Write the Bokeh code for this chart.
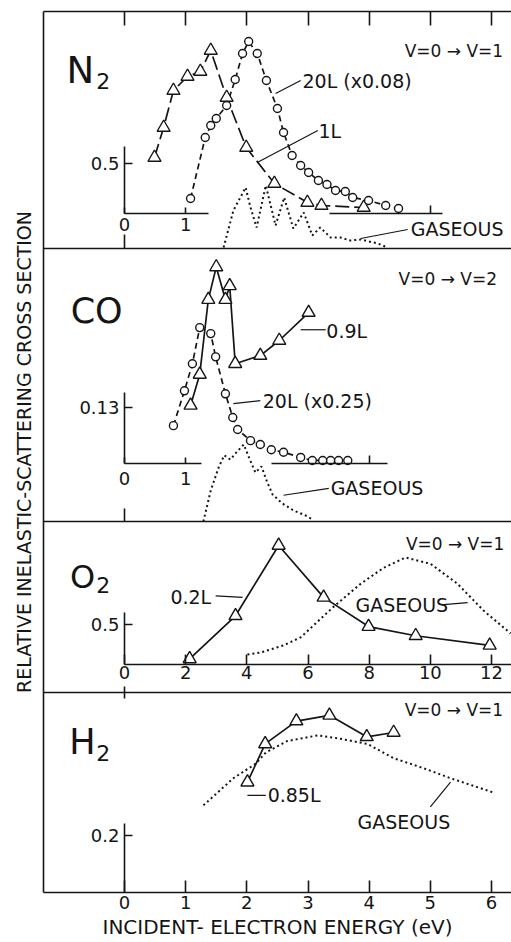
from bokeh.plotting import figure
from bokeh.models import Range1d, LinearAxis, FixedTicker, Label
from bokeh.embed import file_html
from bokeh.resources import INLINE

# ---------------- data ----------------
# N2, V=0 -> V=1  (x: eV, y: relative cross section)
n2_1L_x = [0.49, 0.64, 0.80, 1.03, 1.24, 1.41, 1.67, 1.99, 2.45, 2.99, 3.22, 3.91]
n2_1L_y = [0.56, 0.86, 1.23, 1.37, 1.42, 1.63, 1.16, 0.66, 0.30, 0.11, 0.08, 0.06]
n2_20L_x = [1.08, 1.32, 1.41, 1.50, 1.67, 1.81, 1.93, 2.03, 2.17, 2.32, 2.50, 2.60,
            2.74, 2.88, 3.01, 3.17, 3.31, 3.45, 3.61, 3.73, 3.99, 4.27, 4.48]
n2_20L_y = [0.15, 0.76, 0.88, 0.95, 1.08, 1.34, 1.60, 1.72, 1.60, 1.33, 1.05, 0.81,
            0.58, 0.48, 0.41, 0.33, 0.29, 0.23, 0.22, 0.16, 0.13, 0.08, 0.05]
n2_gas_x = [1.62, 1.78, 1.98, 2.06, 2.16, 2.31, 2.47, 2.61, 2.76, 2.93, 3.07, 3.20,
            3.37, 3.53, 3.69, 3.86, 4.14, 4.30]
n2_gas_y = [-0.34, 0.03, 0.26, 0.06, -0.14, 0.28, -0.12, 0.16, -0.15, 0.01, -0.22, -0.14,
            -0.24, -0.24, -0.27, -0.26, -0.30, -0.34]

# CO, V=0 -> V=2
co_09L_x = [1.08, 1.23, 1.37, 1.50, 1.65, 1.72, 1.81, 2.22, 2.53, 3.01]
co_09L_y = [0.135, 0.207, 0.381, 0.457, 0.381, 0.413, 0.232, 0.251, 0.286, 0.351]
co_20L_x = [0.80, 0.98, 1.11, 1.23, 1.41, 1.49, 1.65, 1.77, 1.85, 2.06, 2.22, 2.40,
            2.60, 2.88, 3.07, 3.24, 3.37, 3.50, 3.65]
co_20L_y = [0.088, 0.169, 0.232, 0.316, 0.302, 0.248, 0.162, 0.107, 0.079, 0.053, 0.044, 0.032,
            0.026, 0.014, 0.007, 0.007, 0.007, 0.007, 0.007]
co_gas_x = [1.29, 1.41, 1.54, 1.63, 1.73, 1.83, 1.95, 2.04, 2.14, 2.24, 2.32, 2.42,
            2.58, 2.76, 2.96, 3.07]
co_gas_y = [-0.135, -0.063, -0.009, 0.019, 0.009, 0.026, 0.044, 0.012, -0.021, -0.007, -0.039, -0.072,
            -0.093, -0.109, -0.121, -0.130]

# O2, V=0 -> V=1
o2_02L_x = [2.13, 3.63, 5.04, 6.51, 7.98, 9.52, 11.94]
o2_02L_y = [0.07, 0.61, 1.49, 0.84, 0.475, 0.36, 0.24]
o2_gas_x = [4.02, 4.45, 5.20, 5.76, 6.80, 7.72, 8.47, 9.19, 10.01, 10.89, 11.74, 12.62]
o2_gas_y = [0.125, 0.15, 0.24, 0.34, 0.71, 1.01, 1.21, 1.34, 1.26, 1.01, 0.675, 0.39]

# H2, V=0 -> V=1
h2_085L_x = [2.01, 2.30, 2.81, 3.35, 3.96, 4.40]
h2_085L_y = [0.386, 0.52, 0.60, 0.62, 0.545, 0.56]
h2_gas_x = [1.29, 1.78, 2.14, 2.31, 2.66, 3.16, 3.48, 3.97, 4.40, 4.89, 5.33, 6.03]
h2_gas_y = [0.305, 0.40, 0.45, 0.49, 0.53, 0.55, 0.54, 0.52, 0.47, 0.435, 0.40, 0.35]

# tick values
bottom_ticks = [0, 1, 2, 3, 4, 5, 6]
n2_xticks, n2_yticks = [0, 1], [0.5]
co_xticks, co_yticks = [0, 1], [0.13]
o2_xticks, o2_yticks = [0, 2, 4, 6, 8, 10, 12], [0.5]
h2_yticks = [0.2]

# ---------------- layout ----------------
INK = "#151515"
FONT = "DejaVu Sans"
W, H = 511, 942
FRAME_LEFT, FRAME_TOP, FRAME_BOTTOM = 43, 11, 892
ZERO_PX, PX_PER_EV = 124, 61.17
x0 = (FRAME_LEFT - ZERO_PX) / PX_PER_EV
x1 = (W - ZERO_PX) / PX_PER_EV

# panel: (top px, bottom px, y at bottom, y at top)
PANELS = {"n2": (11, 248, -0.35, 2.02), "co": (248, 521, -0.135, 0.50),
          "o2": (521, 692, -0.35, 1.79), "h2": (692, 892, 0.0, 0.70)}


def yrange(name):
    top, bot, lo, hi = PANELS[name]
    ppu = (bot - top) / (hi - lo)
    return Range1d(lo - (FRAME_BOTTOM - bot) / ppu, hi + (top - FRAME_TOP) / ppu)


p = figure(width=W, height=H, x_range=Range1d(x0, x1), y_range=yrange("h2"),
           x_axis_location=None, y_axis_location=None, toolbar_location=None,
           output_backend="svg", min_border_left=FRAME_LEFT, min_border_right=0,
           min_border_top=FRAME_TOP, min_border_bottom=H - FRAME_BOTTOM,
           outline_line_color=None, background_fill_color="white",
           border_fill_color="white")
p.grid.visible = False
p.extra_x_ranges = {"o2x": Range1d(2 * x0, 2 * x1)}
p.extra_y_ranges = {k: yrange(k) for k in ("n2", "co", "o2")}

XR = {"n2": "default", "co": "default", "o2": "o2x", "h2": "default"}
YR = {"n2": "n2", "co": "co", "o2": "o2", "h2": "default"}


def style(ax, tick_in, tick_out=0, standoff=4, size="18px"):
    ax.axis_line_color = INK
    ax.axis_line_width = 1.6
    ax.major_tick_line_color = INK
    ax.major_tick_line_width = 1.6
    ax.major_tick_in = tick_in
    ax.major_tick_out = tick_out
    ax.minor_tick_line_color = None
    ax.major_label_text_font = FONT
    ax.major_label_text_font_size = size
    ax.major_label_text_color = INK
    ax.major_label_standoff = standoff
    ax.axis_label_text_font = FONT
    ax.axis_label_text_font_style = "normal"
    ax.axis_label_text_color = INK
    return ax


def add_axis(panel, side, loc, ticks, show=True, bounds="auto", tick_in=8, tick_out=0, standoff=4):
    ax = LinearAxis(ticker=FixedTicker(ticks=ticks), fixed_location=loc, bounds=bounds,
                    x_range_name=XR[panel], y_range_name=YR[panel])
    if not show:
        ax.major_label_overrides = {t: "" for t in ticks}
    style(ax, tick_in, tick_out, standoff)
    p.add_layout(ax, side)
    return ax


# outer frame
top_ax = LinearAxis(ticker=FixedTicker(ticks=bottom_ticks))
top_ax.major_label_overrides = {t: "" for t in bottom_ticks}
style(top_ax, 14, 0, 0)
p.add_layout(top_ax, "above")

left_ax = LinearAxis(ticker=FixedTicker(ticks=[]),
                     axis_label="RELATIVE INELASTIC-SCATTERING CROSS SECTION")
style(left_ax, 0, 0, 0)
left_ax.axis_label_text_font_size = "19px"
left_ax.axis_label_standoff = 9
p.add_layout(left_ax, "left")

bot_ax = LinearAxis(ticker=FixedTicker(ticks=bottom_ticks),
                    axis_label="INCIDENT- ELECTRON ENERGY (eV)")
style(bot_ax, 12, 0, 3)
bot_ax.axis_label_text_font_size = "20px"
bot_ax.axis_label_standoff = 3
p.add_layout(bot_ax, "below")

# panel dividers
add_axis("n2", "below", PANELS["n2"][2], [0], show=False, tick_in=14)
add_axis("co", "below", PANELS["co"][2], [0], show=False, tick_in=13)
add_axis("o2", "below", PANELS["o2"][2], [0], show=False, tick_in=6, tick_out=6)

# inner axes
add_axis("n2", "left", 0, n2_yticks, bounds=(0, 0.67), tick_in=8, standoff=5)
add_axis("n2", "below", 0, n2_xticks, bounds=(0, 1.38), tick_in=6, standoff=4)
add_axis("n2", "below", 0, [5], show=False, bounds=(3.35, 5.2), tick_in=8)
add_axis("co", "left", 0, co_yticks, bounds=(0, 0.165), tick_in=8, standoff=5)
add_axis("co", "below", 0, co_xticks, bounds=(0, 1.26), tick_in=6, standoff=9)
add_axis("co", "below", 0, [4], show=False, bounds=(2.4, 4.3), tick_in=8)
add_axis("o2", "left", 0, o2_yticks, bounds=(0, 0.65), tick_in=8, standoff=5)
add_axis("o2", "below", 0, o2_xticks, bounds=(0, 13.5), tick_in=10, standoff=1)
add_axis("h2", "left", 0, h2_yticks, bounds=(0, 0.24), tick_in=8, standoff=5)


def kw(panel):
    return dict(x_range_name=XR[panel], y_range_name=YR[panel])


# gaseous (dotted)
for panel, xs, ys in [("n2", n2_gas_x, n2_gas_y), ("co", co_gas_x, co_gas_y),
                      ("o2", o2_gas_x, o2_gas_y), ("h2", h2_gas_x, h2_gas_y)]:
    p.line(xs, ys, line_color=INK, line_width=2, line_dash="2 3", **kw(panel))

# film curves
curves = [("n2", n2_1L_x, n2_1L_y, "triangle", "14 5"),
          ("n2", n2_20L_x, n2_20L_y, "circle", "6 4"),
          ("co", co_09L_x, co_09L_y, "triangle", "solid"),
          ("co", co_20L_x, co_20L_y, "circle", "6 4"),
          ("o2", o2_02L_x, o2_02L_y, "triangle", "solid"),
          ("h2", h2_085L_x, h2_085L_y, "triangle", "solid")]
for panel, xs, ys, m, dash in curves:
    p.line(xs, ys, line_color=INK, line_width=1.7, line_dash=dash, **kw(panel))
for panel, xs, ys, m, dash in curves:
    p.scatter(xs, ys, marker=m, size=13 if m == "triangle" else 8,
              fill_color="white", line_color=INK, line_width=1.4, **kw(panel))

# leader lines (annotation)
leaders = [("n2", 2.88, 1.33, 2.47, 1.20), ("n2", 3.16, 0.83, 2.17, 0.51),
           ("n2", 4.63, -0.16, 3.86, -0.25),
           ("co", 3.29, 0.311, 2.88, 0.311), ("co", 2.22, 0.146, 1.78, 0.139),
           ("co", 3.34, -0.058, 2.60, -0.074),
           ("o2", 2.98, 0.86, 3.86, 0.84), ("o2", 10.43, 0.75, 11.22, 0.775),
           ("h2", 2.01, 0.34, 2.31, 0.34), ("h2", 5.0, 0.30, 5.33, 0.386)]
for panel, ax0, ay0, ax1, ay1 in leaders:
    p.segment(x0=[ax0], y0=[ay0], x1=[ax1], y1=[ay1], line_color=INK, line_width=1.2, **kw(panel))

# texts
names = [("n2", "N", -0.95, 1.43, "37px"), ("n2", "2", -0.46, 1.33, "22px"),
         ("co", "CO", -0.88, 0.355, "35px"),
         ("o2", "O", -1.78, 1.09, "32px"), ("o2", "2", -0.92, 0.99, "22px"),
         ("h2", "H", -0.905, 0.526, "35px"), ("h2", "2", -0.46, 0.488, "22px")]
for panel, t, x, y, fs in names:
    p.add_layout(Label(x=x, y=y, text=t, text_font=FONT, text_font_size=fs,
                       text_color=INK, text_align="left", text_baseline="alphabetic",
                       **kw(panel)))

notes = [("n2", "V=0 → V=1", 4.58, 1.63, "17px"), ("n2", "20L (x0.08)", 2.91, 1.33, "19px"),
         ("n2", "1L", 3.17, 0.83, "19px"), ("n2", "GASEOUS", 4.68, -0.15, "19px"),
         ("co", "V=0 → V=2", 4.48, 0.429, "17px"), ("co", "0.9L", 3.30, 0.309, "19px"),
         ("co", "20L (x0.25)", 2.26, 0.146, "19px"), ("co", "GASEOUS", 3.37, -0.058, "19px"),
         ("o2", "V=0 → V=1", 9.20, 1.51, "17px"), ("o2", "0.2L", 1.50, 0.85, "19px"),
         ("o2", "GASEOUS", 7.55, 0.74, "19px"),
         ("h2", "V=0 → V=1", 4.58, 0.64, "17px"), ("h2", "0.85L", 2.34, 0.34, "19px"),
         ("h2", "GASEOUS", 3.81, 0.246, "19px")]
for panel, t, x, y, fs in notes:
    p.add_layout(Label(x=x, y=y, text=t, text_font=FONT, text_font_size=fs,
                       text_color=INK, text_align="left", text_baseline="middle",
                       **kw(panel)))

open("out.html", "w").write(file_html(p, INLINE))
